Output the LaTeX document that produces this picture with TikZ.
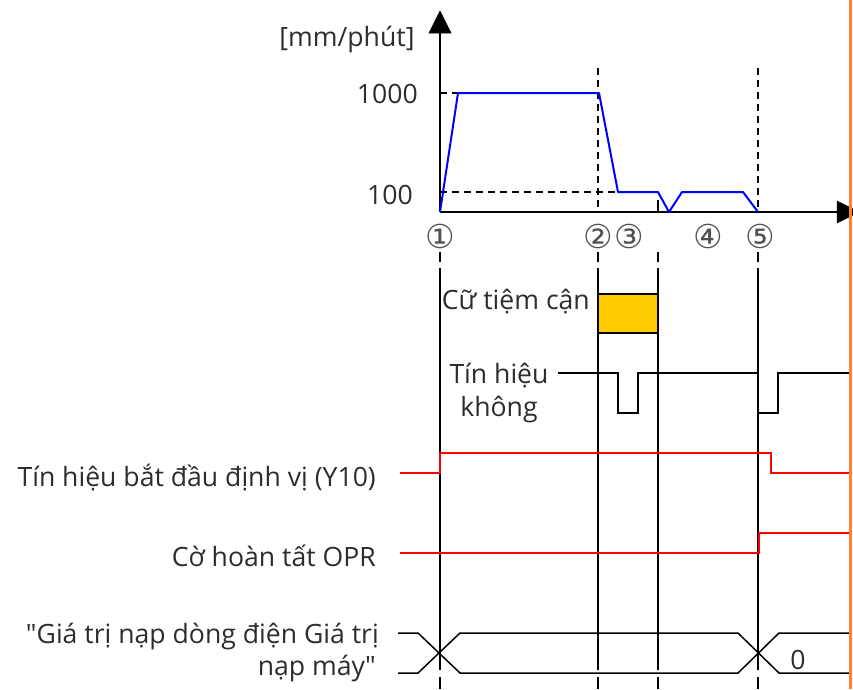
\documentclass[tikz,border=0pt]{standalone}
\usepackage{fontspec}
\setmainfont{Open Sans}
\newfontfamily\symfont{DejaVu Sans}
\usetikzlibrary{arrows.meta}
\definecolor{orng}{RGB}{255,128,48}
\definecolor{yel}{RGB}{255,204,0}
\definecolor{txt}{RGB}{45,45,45}
\definecolor{circ}{RGB}{80,80,80}
\tikzset{
  wire/.style={line width=1.5pt,black},
  sig/.style={line width=1.5pt,red},
  vel/.style={line width=2pt,blue},
  dsh/.style={line width=1.5pt,black,dash pattern=on 7pt off 5pt},
  lbl/.style={font=\fontsize{26.6}{30}\selectfont,text=txt,inner sep=0pt},
  num/.style={font=\symfont\fontsize{33}{33}\selectfont,text=circ,inner sep=0pt},
  tip/.style={fill=black,draw=black,line width=0.5pt,line join=miter}
}
\begin{document}
\begin{tikzpicture}[x=1pt,y=-1pt]
\useasboundingbox (0,0) rectangle (853,689);
% axes
\coordinate (O) at (440,212);
\coordinate (ytop) at (440,30);
\coordinate (xend) at (840,212);
\draw[wire] (O) -- (ytop);
\draw[wire] (O) -- (xend);
\fill[tip] (440,11) -- (429,33) -- (451,33) -- cycle;
\fill[tip] (859,212) -- (837,201) -- (837,223) -- cycle;
% axis labels
\node[lbl,anchor=center] (unit) at (347,40) {[mm/phút]};
\node[lbl,anchor=east] (v1000) at (418,94) {1000};
\node[lbl,anchor=east] (v100) at (413,195) {100};
% dashed levels
\draw[dsh] (440,93) -- (458,93);
\draw[dsh] (440,192) -- (618,192);
\draw[dsh] (598,68) -- (598,212);
\draw[dsh] (758,68) -- (758,212);
\draw[wire] (658,200) -- (658,212);
% velocity profile
\draw[vel,line join=round] (440,212) -- (458,93) -- (599,93) -- (618,192) -- (658,192) -- (669,212) -- (682,192) -- (743,192) -- (758,212);
% circled numbers
\node[num] (n1) at (440,236) {①};
\node[num] (n2) at (598,236) {②};
\node[num] (n3) at (629,236) {③};
\node[num] (n4) at (708,236) {④};
\node[num] (n5) at (760,236) {⑤};
% vertical time lines
\foreach \x in {440,598,658,758}{
  \draw[wire] (\x,252) -- (\x,262);
  \draw[wire] (\x,268) -- (\x,670);
  \draw[wire] (\x,677) -- (\x,689);
}
% proximity dog
\node[lbl,anchor=east] (dogl) at (590,302) {Cữ tiệm cận};
\draw[wire,fill=yel] (598,294) rectangle (658,333);
% zero signal
\node[lbl,anchor=center,align=center,font=\fontsize{26.6}{33}\selectfont] (zl) at (499,393) {Tín hiệu\\không};
\draw[wire] (558,373) -- (618,373) -- (618,413) -- (638,413) -- (638,373) -- (758,373) -- (758,413) -- (778,413) -- (778,373) -- (850,373);
% Y10
\node[lbl,anchor=east] (y10l) at (376,478) {Tín hiệu bắt đầu định vị (Y10)};
\draw[sig] (400,473) -- (440,473) -- (440,453) -- (771,453) -- (771,473) -- (850,473);
% OPR
\node[lbl,anchor=east] (oprl) at (376,556) {Cờ hoàn tất OPR};
\draw[sig] (400,553) -- (759,553) -- (759,533) -- (850,533);
% bus
\node[lbl,anchor=east] (busl1) at (379,636) {\textquotedbl Giá trị nạp dòng điện Giá trị};
\node[lbl,anchor=east] (busl2) at (376,668) {nạp máy\textquotedbl};
\draw[wire] (398,633) -- (418,633) -- (460,673) -- (738,673) -- (779,633) -- (850,633);
\draw[wire] (398,673) -- (418,673) -- (460,633) -- (738,633) -- (779,673) -- (850,673);
\node[lbl] (zero) at (798,660) {0};
% orange right line
\draw[orng,line width=3pt] (850,0) -- (850,689);
\end{tikzpicture}
\end{document}
